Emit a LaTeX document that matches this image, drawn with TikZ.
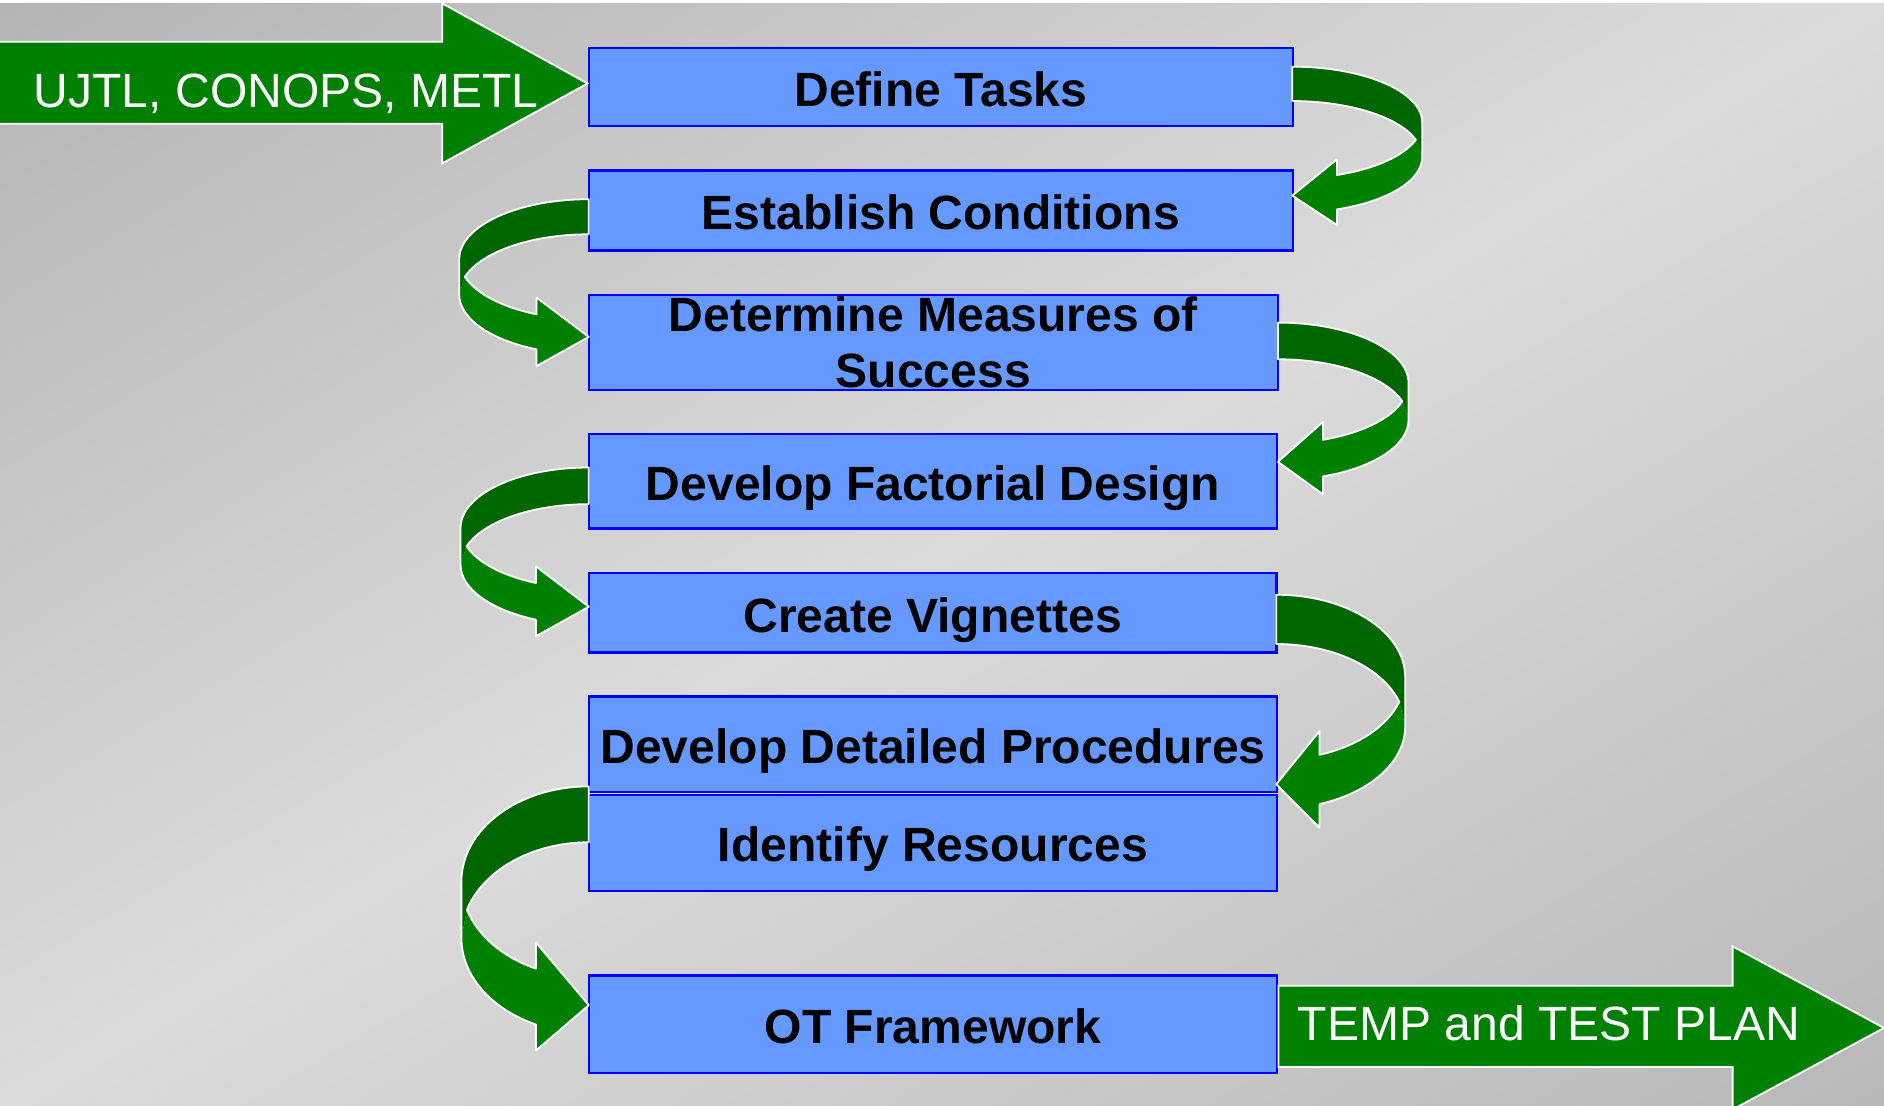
\documentclass[tikz,border=0pt]{standalone}
\usepackage{fontspec}
\setmainfont{Liberation Sans}
\definecolor{bgdark}{HTML}{B4B4B4}
\definecolor{bgdarkb}{HTML}{B8B8B8}
\definecolor{bglight}{HTML}{DBDBDB}
\definecolor{boxfill}{HTML}{6699FF}
\definecolor{boxline}{HTML}{0000FF}
\definecolor{glight}{HTML}{008000}
\definecolor{gdark}{HTML}{006600}
\tikzset{
  boxbase/.style={draw=boxline, fill=boxfill, line width=2pt, inner sep=0pt,
    font=\fontsize{40}{47}\selectfont\bfseries, text=black},
  stepbox/.style={boxbase, text height=32pt, text depth=0pt},
  bigarrow/.style={fill=glight, draw=white, line width=1.5pt},
  arrowtext/.style={text=white, font=\fontsize{40}{47}\selectfont, inner sep=0pt},
  ribbonline/.style={draw=white, line width=1.5pt, line join=round},
}
% #1 side, #2 x0, #3 top, #4 thickness, #5 W, #6 H, #7 head length, #8 head half height
\newcommand{\curvarrow}[8]{%
  \begin{scope}[shift={(#2,0)}, xscale=#1]
    \pgfmathsetmacro{\caY}{#3+#6}
    \pgfmathsetmacro{\cbY}{#3+#6+#4}
    \pgfmathsetmacro{\phiI}{asin(#4/(2*#6))}
    \pgfmathsetmacro{\thB}{acos(#7/#5)}
    \pgfmathsetmacro{\xI}{#5*cos(\phiI)}
    \pgfmathsetmacro{\yI}{\caY+#4/2}
    \pgfmathsetmacro{\yAl}{\caY+#6*sin(\thB)}
    \pgfmathsetmacro{\yBl}{\cbY+#6*sin(\thB)}
    \pgfmathsetmacro{\yM}{(\yAl+\yBl)/2}
    \pgfmathsetmacro{\yTip}{\caY+#6+#4/2}
    \fill[gdark] (0,#3) arc[start angle=-90, end angle=0, x radius=#5, y radius=#6]
      -- (#5,\cbY) -- (\xI,\yI)
      arc[start angle=-\phiI, end angle=-90, x radius=#5, y radius=#6] -- cycle;
    \fill[glight] (#5,\cbY) arc[start angle=0, end angle=\thB, x radius=#5, y radius=#6]
      -- (#7,\yM+#8) -- (0,\yTip) -- (#7,\yM-#8) -- (#7,\yAl)
      arc[start angle=\thB, end angle=\phiI, x radius=#5, y radius=#6] -- cycle;
    \draw[ribbonline] (0,#3) arc[start angle=-90, end angle=0, x radius=#5, y radius=#6]
      -- (#5,\cbY) arc[start angle=0, end angle=\thB, x radius=#5, y radius=#6]
      -- (#7,\yM+#8) -- (0,\yTip) -- (#7,\yM-#8) -- (#7,\yAl)
      arc[start angle=\thB, end angle=\phiI, x radius=#5, y radius=#6]
      arc[start angle=-\phiI, end angle=-90, x radius=#5, y radius=#6] -- cycle;
  \end{scope}}
\begin{document}
\begin{tikzpicture}[x=1pt, y=-1pt]
  \useasboundingbox (0,0) rectangle (1568,920);
  % background
  \fill[white] (0,0) rectangle (1568,920);
  \begin{scope}
    \clip (0,2.5) rectangle (1568,920);
    \shade[top color=bgdark, bottom color=bgdarkb, middle color=bglight, shading angle=30.4]
      (-9.5,-333.5) rectangle (1577.5,1253.5);
  \end{scope}

  % boxes
  \node[stepbox, minimum width=586, minimum height=65] (b1) at (783,72.5) {Define Tasks};
  \node[stepbox, minimum width=586, minimum height=66.6] (b2) at (783,175.3) {Establish Conditions};
  \node[boxbase, align=center, minimum width=573.6, minimum height=79] (b3) at (776.8,285) {Determine Measures of\\Success};
  \node[stepbox, minimum width=573, minimum height=79] (b4) at (776.5,400.5) {Develop Factorial Design};
  \node[stepbox, minimum width=572.5, minimum height=66] (b5) at (776.25,510) {Create Vignettes};
  \node[stepbox, minimum width=573, minimum height=79.4] (b6) at (776.5,619.3) {Develop Detailed Procedures};
  \node[stepbox, minimum width=573, minimum height=79.8] (b7) at (776.5,701.4) {Identify Resources};
  \node[stepbox, minimum width=573, minimum height=81] (b8) at (776.5,852.5) {OT Framework};

  % input and output arrows
  \draw[bigarrow] (-5,34.7) -- (368,34.7) -- (368,2.8) -- (b1.west |- 0,69.5) -- (368,136) -- (368,103) -- (-5,103) -- cycle;
  \node[arrowtext, anchor=base west] (tin) at (28,89.5) {UJTL, CONOPS, METL};
  \draw[bigarrow] (b8.east |- 0,820.4) -- (1442,820.4) -- (1442,787.6) -- (1568,855.5) -- (1442,923.4) -- (1442,888) -- (b8.east |- 0,888) -- cycle;
  \node[arrowtext, anchor=base west] (tout) at (1080,866) {TEMP and TEST PLAN};

  % curved connectors
  \curvarrow{1}{1075.5}{55.5}{28.6}{108.2}{46.5}{37.2}{27.3}
  \curvarrow{-1}{490}{165.8}{29.2}{107.8}{50}{43.5}{28.5}
  \curvarrow{1}{1063.6}{268.5}{30.5}{108.7}{50.3}{37.4}{30.1}
  \curvarrow{-1}{490}{389.1}{30.5}{106.7}{50.3}{44}{29.1}
  \curvarrow{1}{1062.2}{495}{41}{107.3}{68.6}{36}{40.25}
  \curvarrow{-1}{490}{654.5}{46.5}{106}{79.4}{44}{45}
\end{tikzpicture}
\end{document}
